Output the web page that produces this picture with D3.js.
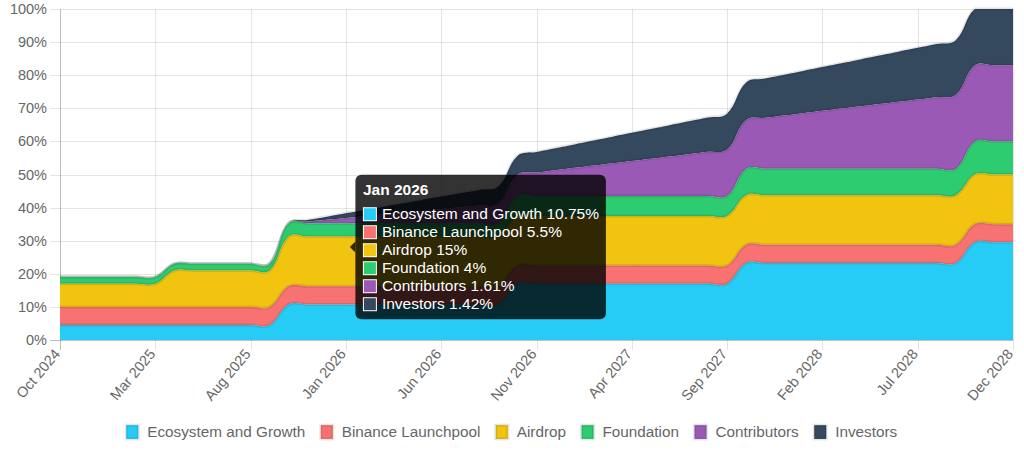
<!DOCTYPE html>
<html><head><meta charset="utf-8">
<script src="https://cdn.jsdelivr.net/npm/d3@7"></script>
<style>
html,body{margin:0;padding:0;background:#fff;}
svg{display:block;font-family:"Liberation Sans",Arial,Helvetica,sans-serif;}
</style></head><body>
<svg id="chart" width="1024" height="453"></svg>
<script>
// ---------------- data ----------------
const months = ["Oct 2024","Nov 2024","Dec 2024","Jan 2025","Feb 2025","Mar 2025","Apr 2025","May 2025","Jun 2025","Jul 2025","Aug 2025","Sep 2025",
"Oct 2025","Nov 2025","Dec 2025","Jan 2026","Feb 2026","Mar 2026","Apr 2026","May 2026","Jun 2026","Jul 2026","Aug 2026","Sep 2026",
"Oct 2026","Nov 2026","Dec 2026","Jan 2027","Feb 2027","Mar 2027","Apr 2027","May 2027","Jun 2027","Jul 2027","Aug 2027","Sep 2027",
"Oct 2027","Nov 2027","Dec 2027","Jan 2028","Feb 2028","Mar 2028","Apr 2028","May 2028","Jun 2028","Jul 2028","Aug 2028","Sep 2028",
"Oct 2028","Nov 2028","Dec 2028"];
const xTickLabels = ["Oct 2024","Mar 2025","Aug 2025","Jan 2026","Jun 2026","Nov 2026","Apr 2027","Sep 2027","Feb 2028","Jul 2028","Dec 2028"];
const yTicks = [0,10,20,30,40,50,60,70,80,90,100];
const seriesNames = ["Ecosystem and Growth","Binance Launchpool","Airdrop","Foundation","Contributors","Investors"];
const seriesColors = ["#27CCF6","#F87272","#F1C40F","#2ECC71","#9B59B6","#34495E"];

const ecosystem = [4.5,4.5,4.5,4.5,4.5,4.5,4.5,4.5,4.5,4.5,4.5,4.5,
 10.75,10.75,10.75,10.75,10.75,10.75,10.75,10.75,10.75,10.75,10.75,10.75,
 17,17,17,17,17,17,17,17,17,17,17,17,
 23.25,23.25,23.25,23.25,23.25,23.25,23.25,23.25,23.25,23.25,23.25,23.25,
 29.5,29.5,29.5];
const binance = [5.5,5.5,5.5,5.5,5.5,5.5,5.5,5.5,5.5,5.5,5.5,5.5,
 5.5,5.5,5.5,5.5,5.5,5.5,5.5,5.5,5.5,5.5,5.5,5.5,
 5.5,5.5,5.5,5.5,5.5,5.5,5.5,5.5,5.5,5.5,5.5,5.5,
 5.5,5.5,5.5,5.5,5.5,5.5,5.5,5.5,5.5,5.5,5.5,5.5,
 5.5,5.5,5.5];
const airdrop = [7,7,7,7,7,7,11,11,11,11,11,11,
 15,15,15,15,15,15,15,15,15,15,15,15,
 15,15,15,15,15,15,15,15,15,15,15,15,
 15,15,15,15,15,15,15,15,15,15,15,15,
 15,15,15];
const foundation = [2,2,2,2,2,2,2,2,2,2,2,2,
 4,4,4,4,4,4,4,4,4,4,4,4,
 6,6,6,6,6,6,6,6,6,6,6,6,
 8,8,8,8,8,8,8,8,8,8,8,8,
 10,10,10];
const contributors = [0,0,0,0,0,0,0,0,0,0,0,0,
 0,0.54,1.07,1.61,2.15,2.68,3.22,3.76,4.29,4.83,5.37,5.90,
 6.44,7.13,7.82,8.51,9.20,9.89,10.58,11.27,11.96,12.65,13.34,14.03,
 14.72,15.41,16.10,16.79,17.48,18.17,18.86,19.55,20.24,20.93,21.62,22.31,
 23.00,23.00,23.00];
const investors = [0,0,0,0,0,0,0,0,0,0,0,0,
 0,0.47,0.94,1.42,1.89,2.36,2.83,3.31,3.78,4.25,4.72,5.19,
 5.67,6.14,6.61,7.08,7.56,8.03,8.50,8.97,9.44,9.92,10.39,10.86,
 11.33,11.81,12.28,12.75,13.22,13.69,14.17,14.64,15.11,15.58,16.06,16.53,
 17.00,17.00,17.00];
const tooltipMonth = "Jan 2026";

// ---------------- layout ----------------
const W = 1024, H = 453;
const plot = {left:60, right:1013, top:9, bottom:340};
const svg = d3.select("#chart");

const seriesValues = [ecosystem, binance, airdrop, foundation, contributors, investors];
const table = months.map((m,i) => {
  const row = {month:m};
  seriesNames.forEach((n,k) => row[n] = seriesValues[k][i]);
  return row;
});
const stacked = d3.stack().keys(seriesNames)(table);

const x = d3.scalePoint().domain(months).range([plot.left, plot.right]);
const y = d3.scaleLinear().domain([0,100]).range([plot.bottom, plot.top]);

// ---------------- grid ----------------
const grid = svg.append("g");
grid.selectAll("line.h").data(yTicks).join("line")
  .attr("x1", plot.left-10).attr("x2", plot.right)
  .attr("y1", d => Math.round(y(d))+0.5).attr("y2", d => Math.round(y(d))+0.5)
  .attr("stroke", d => d===0 ? "rgba(0,0,0,0.25)" : "rgba(0,0,0,0.1)")
  .attr("stroke-width", 1);
grid.selectAll("line.v").data(xTickLabels).join("line")
  .attr("x1", d => Math.round(x(d))+0.5).attr("x2", d => Math.round(x(d))+0.5)
  .attr("y1", plot.top).attr("y2", plot.bottom+10)
  .attr("stroke", (d,i) => i===0 ? "rgba(0,0,0,0.25)" : "rgba(0,0,0,0.1)")
  .attr("stroke-width", 1);

// y labels
svg.append("g").selectAll("text").data(yTicks).join("text")
  .attr("x", plot.left-13).attr("y", d => y(d)).attr("dy","0.35em")
  .attr("text-anchor","end").attr("fill","#666").attr("font-size","14.5px")
  .text(d => d + "%");
// x labels
svg.append("g").selectAll("text").data(xTickLabels).join("text")
  .attr("transform", d => `translate(${x(d)-3},351) rotate(-50)`)
  .attr("dy","0.35em")
  .attr("text-anchor","end").attr("fill","#666").attr("font-size","14.5px")
  .text(d => d);

// ---------------- spline (Chart.js-like, tension 0.4) ----------------
function controlPoints(pts, t) {
  const n = pts.length, cps = [];
  const cx = v => Math.max(plot.left, Math.min(plot.right, v));
  const cy = v => Math.max(plot.top, Math.min(plot.bottom, v));
  for (let i=0;i<n;i++){
    const prev = pts[Math.max(0,i-1)], cur = pts[i], next = pts[Math.min(n-1,i+1)];
    const d01 = Math.hypot(cur[0]-prev[0], cur[1]-prev[1]);
    const d12 = Math.hypot(next[0]-cur[0], next[1]-cur[1]);
    let s01 = d01/(d01+d12), s12 = d12/(d01+d12);
    if (isNaN(s01)) s01 = 0; if (isNaN(s12)) s12 = 0;
    const fa = t*s01, fb = t*s12;
    cps.push({
      px: cx(cur[0]-fa*(next[0]-prev[0])), py: cy(cur[1]-fa*(next[1]-prev[1])),
      nx: cx(cur[0]+fb*(next[0]-prev[0])), ny: cy(cur[1]+fb*(next[1]-prev[1]))
    });
  }
  return cps;
}
function forward(p, pts, cps, move) {
  if (move) p.moveTo(pts[0][0], pts[0][1]); else p.lineTo(pts[0][0], pts[0][1]);
  for (let i=1;i<pts.length;i++)
    p.bezierCurveTo(cps[i-1].nx, cps[i-1].ny, cps[i].px, cps[i].py, pts[i][0], pts[i][1]);
}
function backward(p, pts, cps) {
  const n = pts.length;
  p.lineTo(pts[n-1][0], pts[n-1][1]);
  for (let i=n-1;i>0;i--)
    p.bezierCurveTo(cps[i].px, cps[i].py, cps[i-1].nx, cps[i-1].ny, pts[i-1][0], pts[i-1][1]);
}

const layers = svg.append("g");
const tension = 0.4;
for (let k = stacked.length-1; k >= 0; k--) {
  const layer = stacked[k];
  const top = layer.map(d => [x(d.data.month), y(d[1])]);
  const bot = layer.map(d => [x(d.data.month), y(d[0])]);
  const ct = controlPoints(top, tension), cb = controlPoints(bot, tension);
  const area = d3.path();
  forward(area, top, ct, true);
  backward(area, bot, cb);
  area.closePath();
  layers.append("path").attr("d", area.toString()).attr("fill", seriesColors[k]);
  const line = d3.path();
  forward(line, top, ct, true);
  layers.append("path").attr("d", line.toString()).attr("fill","none")
    .attr("stroke","rgba(0,0,0,0.1)").attr("stroke-width",3);
}

// ---------------- legend ----------------
const legend = svg.append("g").attr("font-size","15.3px").attr("fill","#666");
let lx = 0;
const items = [];
seriesNames.forEach((n,k) => {
  const g = legend.append("g").attr("transform", `translate(${lx},0)`);
  g.append("rect").attr("x",1.5).attr("y",-6.8).attr("width",12).attr("height",13.7)
    .attr("fill", seriesColors[k]).attr("stroke","rgba(0,0,0,0.1)").attr("stroke-width",3);
  const t = g.append("text").attr("x",22.4).attr("y",0).attr("dy","0.35em").text(n);
  const w = t.node().getComputedTextLength();
  lx += 22.4 + w + 14;
});
const totalW = lx - 14;
legend.attr("transform", `translate(${511 - totalW/2},432)`);

// ---------------- tooltip ----------------
const ti = months.indexOf(tooltipMonth);
const tops = stacked.map(l => y(l[ti][1]));
const cyT = d3.mean(tops);
const bodyFont = 15.5, rowH = 18;
const tipX = x(tooltipMonth) + 9.5;
const tipW = 250.5, tipH = 144.5;
const tipY = cyT - tipH/2;
const tip = svg.append("g");
tip.append("rect").attr("x",tipX).attr("y",tipY).attr("width",tipW).attr("height",tipH)
  .attr("rx",6).attr("fill","rgba(0,0,0,0.8)");
tip.append("path").attr("d", `M${tipX},${cyT-5.5}L${tipX-5.5},${cyT}L${tipX},${cyT+5.5}Z`)
  .attr("fill","rgba(0,0,0,0.8)");
tip.append("text").attr("x",tipX+7.5).attr("y",tipY+20.5).attr("fill","#fff")
  .attr("font-weight","bold").attr("font-size",bodyFont+"px").text(tooltipMonth);
seriesNames.forEach((n,k) => {
  const by = tipY + 32.5 + k*rowH;
  tip.append("rect").attr("x",tipX+7.5).attr("y",by).attr("width",14).attr("height",14).attr("fill","#fff");
  tip.append("rect").attr("x",tipX+8.5).attr("y",by+1).attr("width",12).attr("height",12).attr("fill",seriesColors[k]);
  const v = +seriesValues[k][ti].toFixed(2);
  tip.append("text").attr("x",tipX+26.5).attr("y",by+11.8).attr("fill","#fff")
    .attr("font-size",bodyFont+"px").text(`${n} ${v}%`);
});
</script>
</body></html>
